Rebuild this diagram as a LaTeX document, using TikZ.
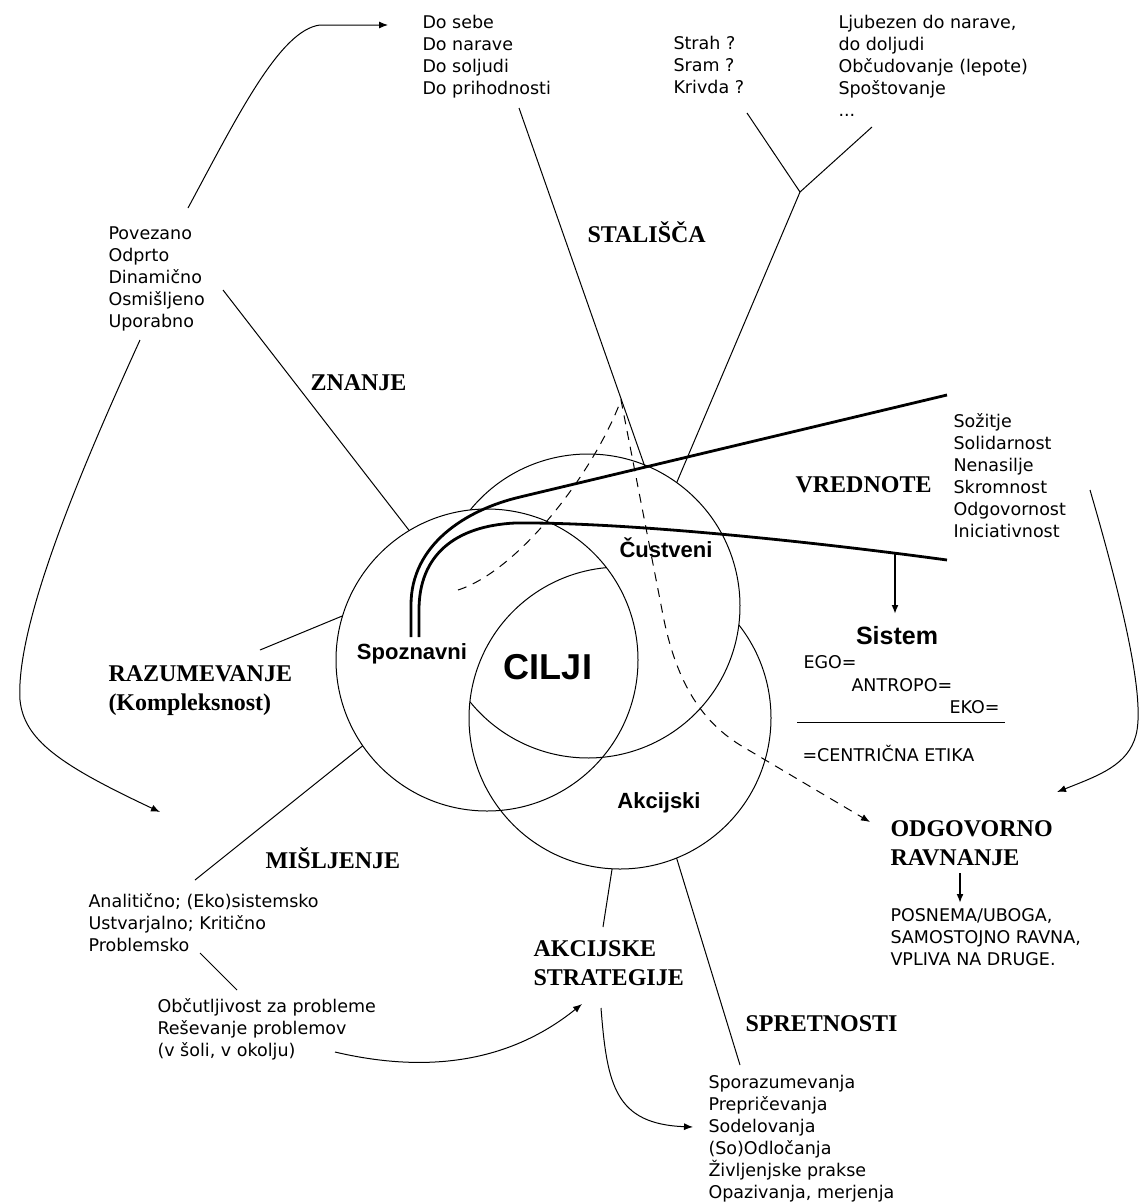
\documentclass[tikz,border=0pt]{standalone}
\usepackage{fontspec}
\setmainfont{DejaVu Sans}
\newfontfamily\headfont{Liberation Serif}
\newfontfamily\labfont{Liberation Sans}
\usetikzlibrary{arrows.meta}

\begin{document}
\begin{tikzpicture}[x=1pt, y=-1pt, line width=1pt,
  txt/.style={anchor=north west, inner sep=0pt, align=left, font=\fontsize{17.5}{22}\selectfont},
  head/.style={anchor=west, inner sep=0pt, align=left, font=\headfont\bfseries\fontsize{24}{29}\selectfont},
  lab/.style={inner sep=0pt, font=\labfont\bfseries\fontsize{22}{26}\selectfont},
  heavy/.style={line width=2.8pt},
  dashline/.style={dash pattern=on 9pt off 7pt},
  arr/.style={-{Latex[length=9pt,width=7pt]}}]
\path[use as bounding box, fill=white] (0,0) rectangle (1138,1202);

\node[txt] (odnos) at (422,15) {Do sebe\\Do narave\\Do soljudi\\Do prihodnosti};
\node[txt] (custva) at (673,36) {Strah ?\\Sram ?\\Krivda ?};
\node[txt] (ljubezen) at (838,15) {Ljubezen do narave,\\do doljudi\\Občudovanje (lepote)\\Spoštovanje\\...};
\node[txt] (lastnosti) at (108,226) {Povezano\\Odprto\\Dinamično\\Osmišljeno\\Uporabno};
\node[txt] (seznam) at (953,413) {Sožitje\\Solidarnost\\Nenasilje\\Skromnost\\Odgovornost\\Iniciativnost};
\node[txt] (nacini) at (88,893) {Analitično; (Eko)sistemsko\\Ustvarjalno; Kritično\\Problemsko};
\node[txt] (problemi) at (157,998) {Občutljivost za probleme\\Reševanje problemov\\(v šoli, v okolju)};
\node[txt] (vescine) at (708,1075) {Sporazumevanja\\Prepričevanja\\Sodelovanja\\(So)Odločanja\\Življenjske prakse\\Opazivanja, merjenja};
\node[txt] (ego) at (803,655) {EGO=};
\node[txt] (antropo) at (851,678) {ANTROPO=};
\node[txt] (eko) at (949,700) {EKO=};
\node[txt] (etika) at (802,745) {=CENTRIČNA ETIKA};
\node[txt] (ravna) at (890,908) {POSNEMA/UBOGA,\\SAMOSTOJNO RAVNA,\\VPLIVA NA DRUGE.};

\node[head] (stalisca) at (587,232) {STALIŠČA};
\node[head] (znanje) at (310,383) {ZNANJE};
\node[head] (vrednote) at (795,485) {VREDNOTE};
\node[head] (razum) at (108,691) {RAZUMEVANJE\\(Kompleksnost)};
\node[head] (misljenje) at (265,858) {MIŠLJENJE};
\node[head] (strategije) at (533,963) {AKCIJSKE\\STRATEGIJE};
\node[head] (spretnosti) at (745,1024) {SPRETNOSTI};
\node[head] (ravnanje) at (890,843) {ODGOVORNO\\RAVNANJE};

\node[lab] (spoznavni) at (412,654) {Spoznavni};
\node[lab] (custveni) at (666,548) {Čustveni};
\node[lab] (akcijski) at (659,803) {Akcijski};
\node[lab, font=\labfont\bfseries\fontsize{36}{40}\selectfont] (cilji) at (548,667) {CILJI};
\node[lab, font=\labfont\bfseries\fontsize{25}{30}\selectfont] (sistem) at (897,636) {Sistem};

\coordinate (cL) at (487,660);
\coordinate (cT) at (588,606);
\coordinate (cB) at (620,718);
\draw (cL) circle (151);
\draw ([shift={(-140.8:152)}]cT) arc[start angle=-140.8, end angle=141, radius=152];
\draw ([shift={(-38.1:151)}]cB) arc[start angle=-38.1, end angle=264.8, radius=151];

\coordinate (zL) at ([shift={(-121:151)}]cL);
\coordinate (rL) at ([shift={(-163:151)}]cL);
\coordinate (mL) at ([shift={(145.4:151)}]cL);
\coordinate (sT) at ([shift={(-54.3:152)}]cT);
\coordinate (aB) at ([shift={(93:151)}]cB);
\coordinate (pB) at ([shift={(68:151)}]cB);

\coordinate (p1) at (519,108);
\coordinate (p2) at (645,467);
\draw (p1) -- (p2);
\coordinate (k1) at (747,113);
\coordinate (k2) at (872,127);
\coordinate (razcep) at (800,192);
\draw (k1) -- (razcep) -- (k2);
\draw (razcep) -- (sT);
\coordinate (d1) at (223,290);
\draw (d1) -- (zL);
\coordinate (r1) at (260,650);
\draw (r1) -- (rL);
\coordinate (m1) at (195,880);
\draw (mL) -- (m1);
\coordinate (q1) at (200,953);
\coordinate (q2) at (237,990);
\draw (q1) -- (q2);
\coordinate (a1) at (603,927);
\draw (aB) -- (a1);
\coordinate (s1) at (740,1065);
\draw (pB) -- (s1);

\coordinate (t1) at (188,208);
\coordinate (t2) at (388,25);
\draw[arr] (t1) .. controls (238,115) and (280,30) .. (320,25) -- (t2);
\coordinate (b1) at (140,340);
\coordinate (b2) at (160,812);
\draw[arr] (b1) .. controls (90,450) and (15,620) .. (20,700) .. controls (24,740) and (60,765) .. (b2);
\coordinate (v1) at (335,1052);
\coordinate (v2) at (582,1004);
\draw[arr] (v1) .. controls (420,1072) and (505,1066) .. (v2);
\coordinate (w1) at (601,1008);
\coordinate (w2) at (693,1127);
\draw[arr] (w1) .. controls (607,1085) and (615,1124) .. (w2);
\coordinate (o1) at (1090,490);
\coordinate (o2) at (1057,792);
\draw[arr] (o1) .. controls (1125,610) and (1145,700) .. (1136,735) .. controls (1128,765) and (1100,775) .. (o2);

\coordinate (h1) at (411,637);
\coordinate (h2) at (947,395);
\draw[heavy] (h1) -- (411,605) .. controls (411,545) and (465,510) .. (520,497) -- (h2);
\coordinate (g1) at (419,637);
\coordinate (g2) at (947,560);
\draw[heavy] (g1) -- (419,610) .. controls (419,555) and (455,526) .. (515,523) .. controls (620,522) and (800,540) .. (g2);

\coordinate (dz) at (458,590);
\coordinate (dk) at (870,822);
\draw[dashline, arr] (dz) .. controls (520,570) and (595,470) .. (621,400) -- (662,610) .. controls (675,680) and (700,720) .. (740,745) -- (dk);

\coordinate (n1) at (895,552);
\coordinate (n2) at (895,614);
\draw[arr, line width=2pt] (n1) -- (n2);
\coordinate (u1) at (960,873);
\coordinate (u2) at (960,903);
\draw[arr, line width=2pt] (u1) -- (u2);
\coordinate (e1) at (797,722);
\coordinate (e2) at (1005,722);
\draw (e1) -- (e2);
\end{tikzpicture}
\end{document}
